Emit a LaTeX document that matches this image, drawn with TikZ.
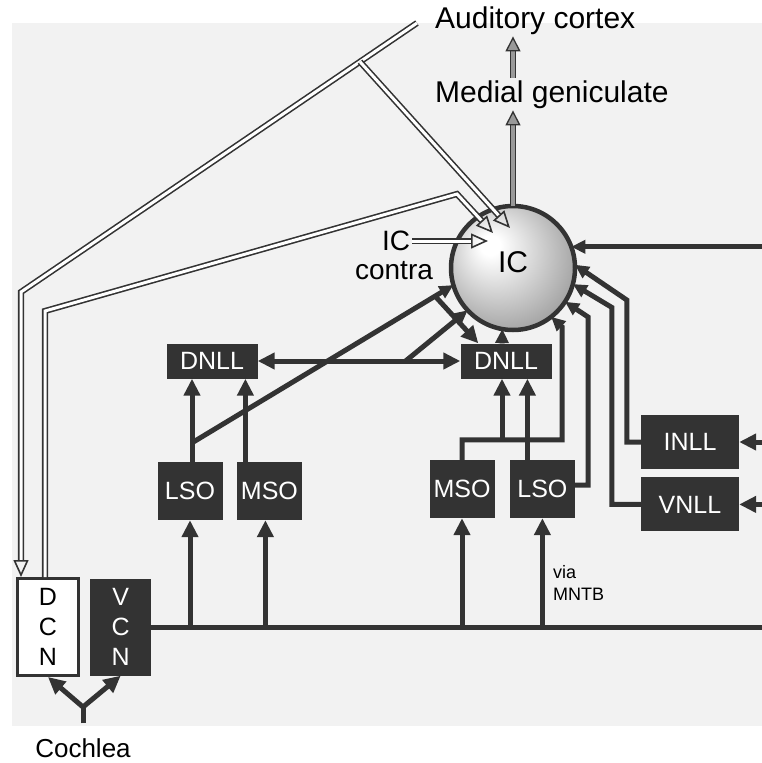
\documentclass[tikz,border=0pt]{standalone}
\usepackage{fontspec}
\setmainfont{Liberation Sans}
\usepackage{xcolor}
\usepackage{tikz}
\usetikzlibrary{arrows.meta,positioning,calc}

\definecolor{ink}{HTML}{333333}
\definecolor{panel}{HTML}{F2F2F2}
\pgfdeclareradialshading{icshade}{\pgfpoint{-10bp}{10bp}}{color(0bp)=(white); color(4bp)=(white); color(39bp)=(black!48); color(50bp)=(black!48)}

\begin{document}
\begin{tikzpicture}[
  x=1pt, y=-1pt,
  >={Triangle[length=17pt,width=16pt]},
  arr/.style={draw=ink, line width=5pt, ->},
  toic/.style={draw=ink, line width=5pt, -{Triangle[length=14pt,width=13pt]}},
  nucleus/.style={rectangle, fill=ink, text=white, inner sep=0pt, font=\fontsize{25}{30}\selectfont},
  soc/.style={nucleus, minimum width=65pt, minimum height=58pt},
  ll/.style={nucleus, minimum width=98pt, minimum height=54pt},
  dnll/.style={nucleus, minimum width=91pt, minimum height=35pt},
  cn/.style={nucleus, minimum width=61pt, minimum height=97pt, align=center},
  hollow/.style={draw=ink, line width=1.6pt, double=white, double distance=3pt, -{Triangle[open, length=17pt, width=15pt]}},
  grayarr/.style={draw=ink, line width=1.3pt, double=black!40, double distance=4pt, -{Triangle[fill=black!40, length=15pt, width=15pt]}},
  lbl/.style={inner sep=2pt, font=\fontsize{30}{36}\selectfont}
]
\useasboundingbox (0,0) rectangle (762,763);
\fill[white] (0,0) rectangle (762,763);
\fill[panel] (12,23) rectangle (762,726);
\coordinate (edge) at (762,0);

% nuclei
\node[circle, draw=ink, line width=4.5pt, shading=icshade, minimum size=124pt, outer sep=0pt,
  text depth=12pt, font=\fontsize{30}{36}\selectfont] (IC) at (513,268) {IC};
\node[dnll] (dnllL) at (212,361) {DNLL};
\node[dnll] (dnllR) at (506,361) {DNLL};
\node[soc] (lsoL) at (190,491) {LSO};
\node[soc, right=14pt of lsoL] (msoL) {MSO};
\node[soc] (msoR) at (462,489) {MSO};
\node[soc, right=15pt of msoR] (lsoR) {LSO};
\node[ll] (inll) at (690,442) {INLL};
\node[ll, below=8pt of inll] (vnll) {VNLL};
\node[cn, draw=ink, line width=3pt, fill=white, text=black] (dcn) at (48,627) {D\\C\\N};
\node[cn, right=10pt of dcn] (vcn) {V\\C\\N};

% labels
\node[lbl, anchor=base west] (cortex) at (433,28) {Auditory cortex};
\node[lbl, anchor=base west] (mgb) at (433,102) {Medial geniculate};
\node[inner sep=2pt, font=\fontsize{28}{32}\selectfont] (icc) at (396,241) {IC};
\node[inner sep=2pt, font=\fontsize{28}{32}\selectfont] (contra) at (394,271) {contra};
\node[inner sep=0pt, font=\fontsize{26}{30}\selectfont] (cochlea) at (83,748) {Cochlea};
\node[inner sep=0pt, anchor=west, align=left, font=\fontsize{18}{22}\selectfont] (mntb) at (553,583) {via\\MNTB};

% ascending output
\draw[grayarr] (IC.north) -- (IC.north |- mgb.south);
\draw[grayarr] (IC.north |- mgb.north) -- (IC.north |- cortex.south);

% cochlea to nuclei
\coordinate (yfork) at (83,707);
\draw[ink, line width=5pt] ($(cochlea.north)+(0,-15)$) -- (yfork);
\draw[arr] (yfork) -- (dcn.south);
\draw[arr] (yfork) -- (vcn.south);

% VCN trunk
\draw[ink, line width=5pt] (vcn.east) -- (vcn.east -| edge);
\draw[arr] (lsoL.south |- vcn.east) -- (lsoL.south);
\draw[arr] ([xshift=-4pt]msoL.south |- vcn.east) -- ([xshift=-4pt]msoL.south);
\draw[arr] (msoR.south |- vcn.east) -- (msoR.south);
\draw[arr] (lsoR.south |- vcn.east) -- (lsoR.south);

% left side
\draw[arr] ([xshift=2pt]lsoL.north) -- ([xshift=2pt]lsoL.north |- dnllL.south);
\draw[arr] ([xshift=-24pt]msoL.north) -- ([xshift=-24pt]msoL.north |- dnllL.south);
\draw[toic] ($(lsoL.north)+(2,-19)$) -- coordinate[pos=0.93] (lsofork) (IC.-164);
\draw[arr] (lsofork) -- ([xshift=18pt]dnllR.north west);
\draw[arr, <->] (dnllL) -- coordinate[pos=0.73] (dnllfork) (dnllR);
\draw[toic] (dnllfork) -- (IC.-137);
\draw[toic] ([xshift=-4pt]dnllR.north) -- (IC.-100);

% right side
\draw[toic] (msoR.north) -- ++(0,-20) -- coordinate[pos=0.4] (msofork) ++(100,0) -- ++(0,-113) -- (IC.-52);
\draw[arr] (msofork) -- (msofork |- dnllR.south);
\draw[arr] ([xshift=-15pt]lsoR.north) -- ([xshift=-15pt]lsoR.north |- dnllR.south);
\draw[toic] ([yshift=4pt]lsoR.east) -- ++(13,0) -- ++(0,-168) -- (IC.-33);
\draw[toic] (vnll.west) -- ++(-29,0) -- ++(0,-197) -- (IC.-15);
\draw[toic] (inll.west) -- ++(-14,0) -- ++(0,-142) -- (IC.3);
\draw[toic] (IC.20 -| edge) -- (IC.20);
\draw[arr] (inll.east -| edge) -- (inll.east);
\draw[arr] (vnll.east -| edge) -- (vnll.east);

% descending and contralateral (hollow)
\coordinate (cortexout) at (417,23);
\coordinate (cortexbend) at (21,292);
\coordinate (dcnbend) at (457,194);
\draw[hollow] (cortexout) -- coordinate[pos=0.144] (cortexfork) (cortexbend) -- (cortexbend |- dcn.north);
\draw[hollow] (cortexfork) -- ($(IC.center)+(-3,-40)$);
\draw[hollow] ([xshift=-3pt]dcn.north) -- ++(0,-266) -- (dcnbend) -- ($(IC.center)+(-20,-35)$);
\draw[hollow] (icc.east) -- ($(IC.center)+(-25,-27)$);
\end{tikzpicture}
\end{document}
